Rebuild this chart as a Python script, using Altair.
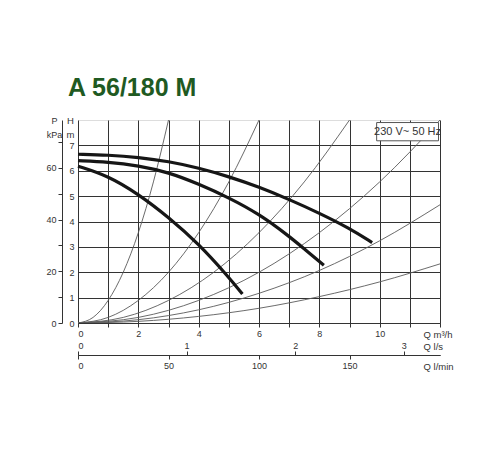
import altair as alt
import pandas as pd

# ---- data ----
TITLE = "A 56/180 M"
LEGEND_TEXT = "230 V~ 50 Hz"

Q_TICKS = list(range(13))          # m3/h
H_TICKS = list(range(8))           # m
P_TICKS = [0, 10, 20, 30, 40, 50, 60, 70]   # kPa
LS_TICKS = [0, 1, 2, 3]            # l/s
LMIN_TICKS = [0, 50, 100, 150]     # l/min

# pump curves (thick)
pump_high_q = [0, 1, 2, 3, 4, 5, 6, 7, 8, 9, 9.75]
pump_high_h = [6.65, 6.62, 6.53, 6.37, 6.11, 5.77, 5.36, 4.87, 4.33, 3.73, 3.17]
pump_mid_q = [0, 1, 2, 3, 4, 5, 6, 7, 7.5, 8.15]
pump_mid_h = [6.40, 6.35, 6.20, 5.94, 5.48, 4.94, 4.30, 3.42, 2.92, 2.28]
pump_low_q = [0, 1, 2, 3, 4, 5, 5.45]
pump_low_h = [6.18, 5.80, 5.08, 4.17, 3.12, 1.80, 1.14]

# system curves (thin)
sys_a_q = [0, 0.5, 1, 1.5, 2, 2.5, 3.0]
sys_a_h = [0, 0.22, 0.89, 2.0, 3.56, 5.56, 8.0]
sys_b_q = [0, 1, 2, 3, 4, 5, 6]
sys_b_h = [0, 0.22, 0.89, 2.0, 3.56, 5.56, 8.0]
sys_c_q = [0, 1.5, 3, 4.5, 6, 7.5, 9]
sys_c_h = [0, 0.22, 0.89, 2.0, 3.56, 5.56, 8.0]
sys_d_q = [0, 2, 4, 6, 8, 10, 12]
sys_d_h = [0, 0.22, 0.89, 2.0, 3.56, 5.56, 8.0]
sys_e_q = [0, 2, 4, 6, 8, 10, 12]
sys_e_h = [0, 0.13, 0.52, 1.17, 2.07, 3.24, 4.66]
sys_f_q = [0, 2, 4, 6, 8, 10, 12]
sys_f_h = [0, 0.065, 0.26, 0.58, 1.04, 1.62, 2.33]

LEGEND_BOX = {"x": 9.9, "x2": 11.95, "y": 7.18, "y2": 7.9}

Q_MAX, H_MAX = 12, 8
P_MAX = H_MAX * 9.81
LS_MAX = Q_MAX / 3.6
LMIN_MAX = Q_MAX * 1000 / 60

# ---- tables ----
def frame(pairs, key):
    rows = []
    for name, qs, hs in pairs:
        for q, h in zip(qs, hs):
            rows.append({"Q": q, "H": h, key: name})
    return pd.DataFrame(rows)

pump_df = frame([("high", pump_high_q, pump_high_h),
                 ("mid", pump_mid_q, pump_mid_h),
                 ("low", pump_low_q, pump_low_h)], "curve")
sys_df = frame([("a", sys_a_q, sys_a_h), ("b", sys_b_q, sys_b_h),
                ("c", sys_c_q, sys_c_h), ("d", sys_d_q, sys_d_h),
                ("e", sys_e_q, sys_e_h), ("f", sys_f_q, sys_f_h)], "sys")
box_df = pd.DataFrame([{**LEGEND_BOX, "xm": (LEGEND_BOX["x"] + LEGEND_BOX["x2"]) / 2,
                        "ym": (LEGEND_BOX["y"] + LEGEND_BOX["y2"]) / 2, "t": LEGEND_TEXT}])
aux_df = pd.DataFrame({"P": [0, P_MAX], "ls": [0, LS_MAX], "lmin": [0, LMIN_MAX],
                       "Q": [0, Q_MAX], "H": [0, H_MAX]})

FONT = "Liberation Sans"
INK = "#333333"
xs = alt.Scale(domain=[0, Q_MAX], nice=False, zero=True)
ys = alt.Scale(domain=[0, H_MAX], nice=False, zero=True)

common = dict(labelFont=FONT, labelFontSize=9, labelColor=INK, titleFont=FONT,
              titleFontWeight="normal", titleColor=INK,
              domainColor=INK, tickColor=INK)

x_axis = alt.Axis(values=Q_TICKS, grid=True, gridColor=INK, gridWidth=1,
                  labelExpr="datum.value % 2 == 0 && datum.value < 12 ? datum.label : ''",
                  tickSize=4, labelPadding=2, title="Q m³/h", titleX=345, titleY=11,
                  titleAlign="left", titleBaseline="middle", titleFontSize=9.5, **common)
y_axis = alt.Axis(values=H_TICKS, grid=True, gridColor=INK, gridWidth=1, ticks=False,
                  labelPadding=4, labelBaseline="middle", title=["H", "m"], titleAngle=0,
                  titleX=-8, titleY=0, titleAlign="center", titleBaseline="middle",
                  titleLineHeight=14, titleFontSize=9.5, domain=False, **common)
p_axis = alt.Axis(values=P_TICKS, grid=False, orient="left", offset=16,
                  labelExpr="datum.value % 20 == 0 ? datum.label : ''",
                  tickSize=4, labelPadding=2, title=["P", "kPa"], titleAngle=0,
                  titleX=-8, titleY=0, titleAlign="center", titleBaseline="middle",
                  titleLineHeight=14, titleFontSize=9, **common)
ls_axis = alt.Axis(values=LS_TICKS, grid=False, orient="top", offset=-235,
                   tickSize=4, labelPadding=1, title="Q l/s", titleX=345, titleY=-9,
                   titleAlign="left", titleBaseline="middle", titleFontSize=9.5, **common)
lmin_axis = alt.Axis(values=LMIN_TICKS, grid=False, orient="bottom", offset=32,
                     tickSize=4, labelPadding=2, title="Q l/min", titleX=345, titleY=11,
                     titleAlign="left", titleBaseline="middle", titleFontSize=9.5, **common)

sys_layer = alt.Chart(sys_df).mark_line(color="#5a5a5a", strokeWidth=0.9,
                                        interpolate="monotone", clip=True).encode(
    x=alt.X("Q:Q", scale=xs, axis=x_axis),
    y=alt.Y("H:Q", scale=ys, axis=y_axis),
    detail="sys:N")

pump_layer = alt.Chart(pump_df).mark_line(color="#161616", strokeWidth=3.2,
                                          interpolate="basis").encode(
    x=alt.X("Q:Q", scale=xs, axis=None),
    y=alt.Y("H:Q", scale=ys, axis=None),
    detail="curve:N")

box_layer = alt.Chart(box_df).mark_rect(fill="white", stroke="#555555", strokeWidth=1).encode(
    x=alt.X("x:Q", scale=xs, axis=None), x2="x2",
    y=alt.Y("y:Q", scale=ys, axis=None), y2="y2")
box_text = alt.Chart(box_df).mark_text(font=FONT, fontSize=11, color=INK,
                                       align="center", baseline="middle").encode(
    x=alt.X("xm:Q", scale=xs, axis=None),
    y=alt.Y("ym:Q", scale=ys, axis=None), text="t:N")

p_layer = alt.Chart(aux_df).mark_point(opacity=0).encode(
    x=alt.X("Q:Q", scale=xs, axis=None),
    y=alt.Y("P:Q", scale=alt.Scale(domain=[0, P_MAX], nice=False), axis=p_axis))
ls_layer = alt.Chart(aux_df).mark_point(opacity=0).encode(
    x=alt.X("ls:Q", scale=alt.Scale(domain=[0, LS_MAX], nice=False), axis=ls_axis),
    y=alt.Y("H:Q", scale=ys, axis=None))
lmin_layer = alt.Chart(aux_df).mark_point(opacity=0).encode(
    x=alt.X("lmin:Q", scale=alt.Scale(domain=[0, LMIN_MAX], nice=False), axis=lmin_axis),
    y=alt.Y("H:Q", scale=ys, axis=None))

chart = alt.layer(sys_layer, pump_layer, box_layer, box_text,
                  p_layer, ls_layer, lmin_layer).resolve_scale(
    x="independent", y="independent"
).properties(
    width=362, height=203,
    autosize=alt.AutoSizeParams(type="none"),
    padding={"left": 70, "top": 112, "right": 50, "bottom": 80},
    title=alt.TitleParams(TITLE, anchor="start", font=FONT, fontSize=25,
                          fontWeight="bold", color="#1f5a22", dx=-10, offset=14,
                          frame="group"),
).configure_view(stroke=INK, strokeWidth=1).configure(background="white")

chart.save("out.html", embed_options={"renderer": "svg", "actions": False})
